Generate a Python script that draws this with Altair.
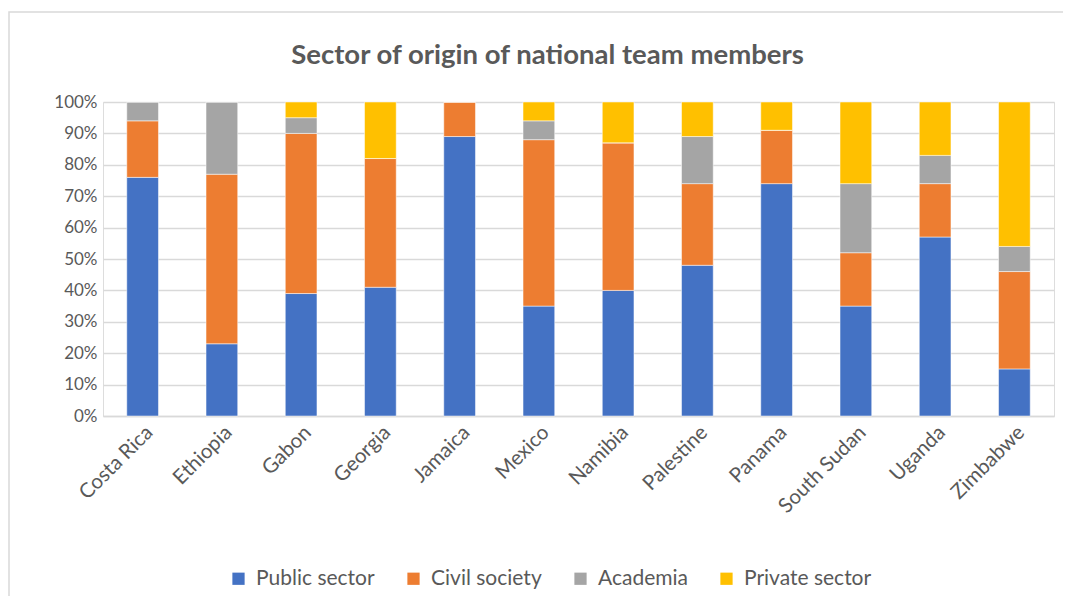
import altair as alt
import pandas as pd

countries = ["Costa Rica", "Ethiopia", "Gabon", "Georgia", "Jamaica", "Mexico",
             "Namibia", "Palestine", "Panama", "South Sudan", "Uganda", "Zimbabwe"]
sectors = ["Public sector", "Civil society", "Academia", "Private sector"]
public_sector = [76, 23, 39, 41, 89, 35, 40, 48, 74, 35, 57, 15]
civil_society = [18, 54, 51, 41, 11, 53, 47, 26, 17, 17, 17, 31]
academia = [6, 23, 5, 0, 0, 6, 0, 15, 0, 22, 9, 8]
private_sector = [0, 0, 5, 18, 0, 6, 13, 11, 9, 26, 17, 46]
colors = ["#4472C4", "#ED7D31", "#A5A5A5", "#FFC000"]

rows = []
for i, c in enumerate(countries):
    for k, (s, vals) in enumerate(zip(sectors, [public_sector, civil_society, academia, private_sector])):
        rows.append({"country": c, "sector": s, "value": vals[i] / 100.0, "rank": k})
df = pd.DataFrame(rows)

FONT = "Lato"
GREY = "#595959"

bars = alt.Chart(df).mark_bar(stroke="white", strokeWidth=0.5).encode(
    x=alt.X("country:N", sort=countries, title=None,
            scale=alt.Scale(paddingInner=0.6, paddingOuter=0.3),
            axis=alt.Axis(labelAngle=-45, labelFontSize=20.5, labelColor=GREY, labelFont=FONT,
                          ticks=False, domainColor="#d9d9d9", domainWidth=1.5, labelPadding=6)),
    y=alt.Y("value:Q", stack="zero", title=None,
            scale=alt.Scale(domain=[0, 1], nice=False),
            axis=alt.Axis(format=".0%", values=[i / 10 for i in range(11)], labelFontSize=17,
                          labelColor=GREY, labelFont=FONT, ticks=False, domain=False,
                          gridColor="#d9d9d9", gridWidth=1.5, labelPadding=6)),
    color=alt.Color("sector:N", sort=sectors,
                    scale=alt.Scale(domain=sectors, range=colors),
                    legend=alt.Legend(title=None, orient="none", direction="horizontal",
                                      legendX=125, legendY=466, symbolType="square",
                                      symbolSize=150, symbolStrokeWidth=0, labelFontSize=21,
                                      labelFont=FONT, labelColor=GREY, columnPadding=28,
                                      labelOffset=7)),
    order=alt.Order("rank:Q", sort="ascending"),
)

frame = alt.Chart(pd.DataFrame({"a": [0]})).mark_rect(
    fill=None, stroke="#d9d9d9", strokeWidth=1.5
).encode(x=alt.value(-94), x2=alt.value(975), y=alt.value(-90), y2=alt.value(520))

chart = alt.layer(frame, bars).properties(
    width=951, height=314,
    title=alt.TitleParams("Sector of origin of national team members", fontSize=27.5,
                          font=FONT, fontWeight="bold", color=GREY, anchor="middle",
                          dx=-31, offset=-58),
    autosize=alt.AutoSizeParams(type="none"),
    padding={"left": 95, "top": 94, "right": 9, "bottom": 180},
).configure_view(stroke=None).configure(background="white")

chart.save("out.html", embed_options={"renderer": "svg", "actions": False})
